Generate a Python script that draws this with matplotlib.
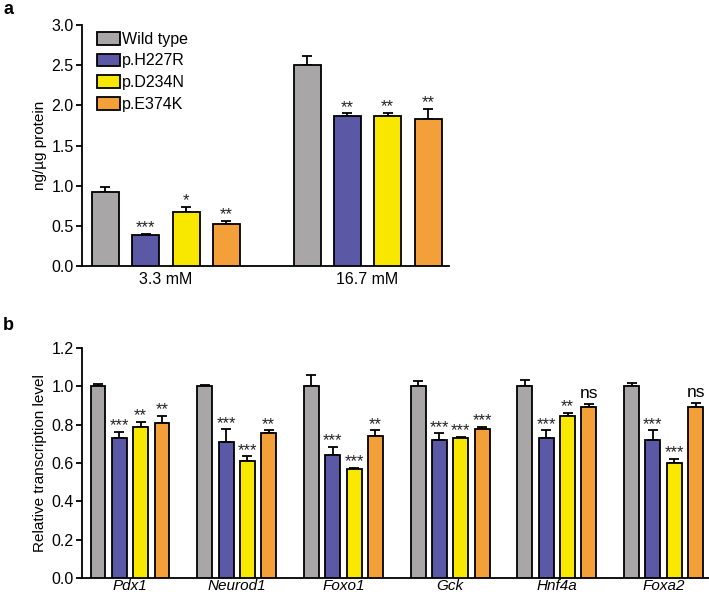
import matplotlib
matplotlib.use("Agg")
import matplotlib.pyplot as plt
import numpy as np

plt.rcParams['font.family'] = ['Liberation Sans', 'DejaVu Sans']

# ---------- data ----------
series = ["Wild type", "p.H227R", "p.D234N", "p.E374K"]
colors = ["#a8a6a7", "#5b59a5", "#f8e800", "#f4a03a"]

a_groups = ["3.3 mM", "16.7 mM"]
a_wt = [0.925, 2.50]
a_h227r = [0.38, 1.87]
a_d234n = [0.67, 1.87]
a_e374k = [0.52, 1.83]
a_err_wt = [0.06, 0.115]
a_err_h227r = [0.02, 0.03]
a_err_d234n = [0.07, 0.04]
a_err_e374k = [0.04, 0.13]
a_sig = [["", "***", "*", "**"], ["", "**", "**", "**"]]

b_genes = ["Pdx1", "Neurod1", "Foxo1", "Gck", "Hnf4a", "Foxa2"]
b_wt = [1.0, 1.0, 1.0, 1.0, 1.0, 1.0]
b_h227r = [0.73, 0.71, 0.64, 0.72, 0.73, 0.72]
b_d234n = [0.79, 0.61, 0.57, 0.73, 0.845, 0.60]
b_e374k = [0.81, 0.755, 0.74, 0.78, 0.89, 0.89]
b_err_wt = [0.013, 0.006, 0.06, 0.03, 0.035, 0.018]
b_err_h227r = [0.033, 0.065, 0.045, 0.035, 0.04, 0.05]
b_err_d234n = [0.025, 0.025, 0.006, 0.006, 0.015, 0.02]
b_err_e374k = [0.035, 0.015, 0.03, 0.01, 0.02, 0.025]
b_sig = [["", "***", "**", "**"],
         ["", "***", "***", "**"],
         ["", "***", "***", "**"],
         ["", "***", "***", "***"],
         ["", "***", "**", "ns"],
         ["", "***", "***", "ns"]]

W, H = 709, 597
fig = plt.figure(figsize=(W / 100, H / 100), dpi=100)

LW = 1.3


def px_axes(l, t, r, b):
    return fig.add_axes([l / W, 1 - b / H, (r - l) / W, (b - t) / H])


def style(ax):
    for s in ["top", "right"]:
        ax.spines[s].set_visible(False)
    for s in ["left", "bottom"]:
        ax.spines[s].set_linewidth(LW)
    ax.tick_params(axis="y", direction="out", length=4, width=LW, labelsize=11.5, pad=2)
    ax.tick_params(axis="x", length=0, labelsize=11.5, pad=4)


def draw(ax, vals, errs, sigs, gap, width, star_off, star_fs):
    n = len(vals[0])
    offsets = np.array([-1.5, -0.5, 0.5, 1.5])
    centers = np.arange(n) * gap
    for k in range(4):
        x = centers + offsets[k]
        ax.bar(x, vals[k], width=width, color=colors[k], edgecolor="black",
               linewidth=LW, label=series[k], zorder=3)
        ax.errorbar(x, vals[k], yerr=[np.zeros(n), errs[k]], fmt="none",
                    ecolor="black", elinewidth=LW, capsize=width * 5.5,
                    capthick=LW, zorder=2)
        for i in range(n):
            s = sigs[i][k]
            if not s:
                continue
            y = vals[k][i] + errs[k][i]
            if s == "ns":
                ax.text(x[i], y + star_off, s, ha="center", va="bottom",
                        fontsize=12.5)
            else:
                ax.text(x[i], y - star_off * 0.6, s, ha="center", va="bottom",
                        fontsize=star_fs, color="#222222")
    return centers


# ---------- panel a ----------
axa = px_axes(82, 25, 449, 266)
style(axa)
ca = draw(axa, [a_wt, a_h227r, a_d234n, a_e374k],
          [a_err_wt, a_err_h227r, a_err_d234n, a_err_e374k],
          a_sig, 5, 0.67, 0.03, 12)
axa.set_xlim(-2.08, 7.02)
axa.set_ylim(0, 3.0)
axa.set_yticks(np.arange(0, 3.01, 0.5))
axa.set_yticklabels([f"{v:.1f}" for v in np.arange(0, 3.01, 0.5)])
axa.set_xticks(ca)
axa.set_xticklabels(a_groups)
axa.set_ylabel("ng/µg protein", fontsize=11, labelpad=3)
axa.legend(loc="upper left", bbox_to_anchor=(0.016, 1.012), frameon=False,
           fontsize=11.5, handlelength=1.4, handleheight=0.85,
           handletextpad=0.15, labelspacing=0.42, borderaxespad=0.2)

# ---------- panel b ----------
axb = px_axes(82, 348, 709, 578)
style(axb)
cb = draw(axb, [b_wt, b_h227r, b_d234n, b_e374k],
          [b_err_wt, b_err_h227r, b_err_d234n, b_err_e374k],
          [list(r) for r in b_sig], 5, 0.70, 0.012, 12)
axb.set_xlim(-2.25, 27.13)
axb.set_ylim(0, 1.2)
axb.set_yticks(np.arange(0, 1.21, 0.2))
axb.set_yticklabels([f"{v:.1f}" for v in np.arange(0, 1.21, 0.2)])
axb.set_xticks(cb)
axb.set_xticklabels(b_genes, style="italic", fontsize=11)
axb.tick_params(axis="x", pad=1)
axb.set_ylabel("Relative transcription level", fontsize=11, labelpad=3)

fig.text(3 / W, 1 - 10 / H, "a", fontsize=13, fontweight="bold", va="center")
fig.text(3 / W, 1 - 326 / H, "b", fontsize=13, fontweight="bold", va="center")

fig.savefig("out.png", dpi=100)
